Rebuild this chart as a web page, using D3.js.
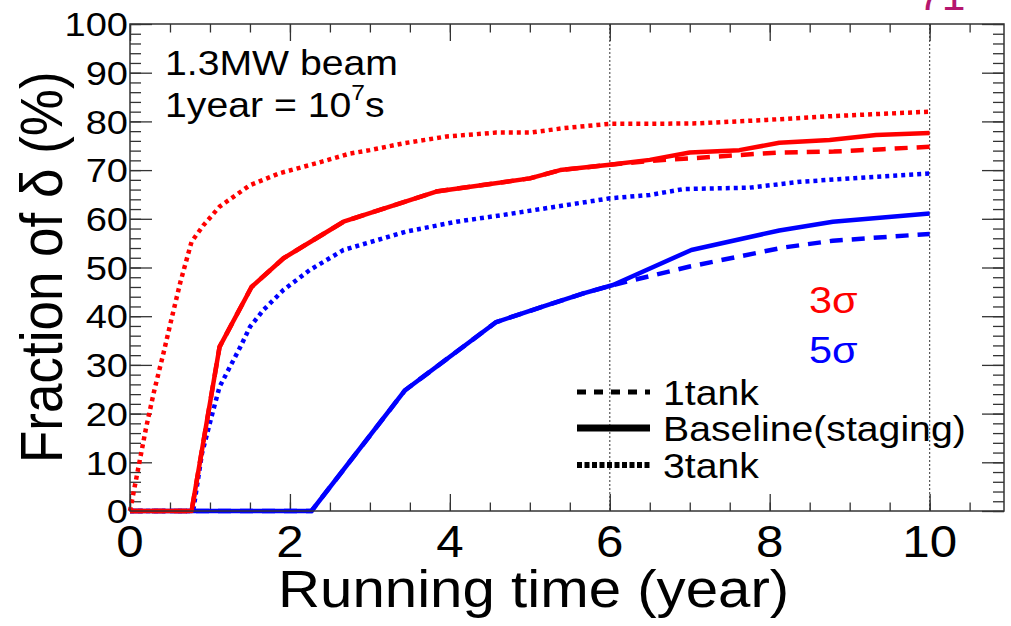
<!DOCTYPE html>
<html>
<head>
<meta charset="UTF-8">
<title>Fraction of delta vs running time</title>
<script src="https://cdn.jsdelivr.net/npm/d3@7"></script>
<style>
  body { margin: 0; background: #fff; }
  text { font-family: "Liberation Sans", Arial, sans-serif; }
</style>
</head>
<body>
<svg id="chart" width="1011" height="626"></svg>
<script>
// curves: [running time (year), fraction of delta (%)]
var red3tank = [[0, 0], [0.1, 8.5], [0.2, 17], [0.3, 24.5], [0.42, 32.5], [0.52, 39.5], [0.63, 47],
  [0.77, 55.3], [0.92, 58.7], [1.12, 62.5], [1.5, 66.9], [1.88, 69.4], [2.33, 71.4], [2.75, 73.4],
  [3.0, 74.1], [3.42, 75.5], [3.96, 76.9], [4.58, 77.7], [5.0, 77.7], [5.42, 78.6], [6.0, 79.5],
  [6.5, 79.5], [7.1, 79.6], [7.96, 80.3], [8.8, 81.1], [10, 82]];
var redBase = [[0, 0], [0.77, 0], [1.12, 33.7], [1.52, 46], [1.92, 51.9], [2.29, 55.6], [2.67, 59.4],
  [3.83, 65.6], [5.0, 68.3], [5.38, 70], [6.0, 71.1], [6.5, 72.1], [7.0, 73.6], [7.62, 74.1],
  [8.12, 75.6], [8.75, 76.2], [9.33, 77.2], [10, 77.6]];
var red1tank = [[0, 0], [0.77, 0], [1.12, 33.7], [1.52, 46], [1.92, 51.9], [2.29, 55.6], [2.67, 59.4],
  [3.83, 65.6], [5.0, 68.3], [5.38, 70], [6.0, 71.1], [6.5, 71.9], [7.0, 72.4], [7.62, 73.1],
  [8.12, 73.6], [8.8, 73.8], [9.42, 74.3], [10, 74.8]];
var blue3tank = [[0, 0], [0.79, 0], [0.9, 11.8], [1.02, 19.4], [1.12, 25.5], [1.25, 29.6], [1.38, 33.7],
  [1.5, 37.8], [1.67, 41.3], [1.92, 45.4], [2.25, 49.5], [2.67, 53.6], [3.46, 57.4], [4.08, 59.4],
  [4.67, 60.8], [5.33, 62.5], [6.0, 64.2], [6.5, 64.9], [6.92, 66.1], [7.75, 66.4], [8.38, 67.6],
  [9.2, 68.5], [10, 69.3]];
var blueBase = [[0, 0], [2.27, 0], [3.44, 24.8], [4.58, 38.8], [5.17, 42], [5.67, 44.7], [6.04, 46.4],
  [7.02, 53.6], [8.12, 57.6], [8.79, 59.4], [10, 61.1]];
var blue1tank = [[0, 0], [2.27, 0], [3.44, 24.8], [4.58, 38.8], [5.17, 42], [5.67, 44.7], [6.04, 46.4],
  [7.0, 50.2], [8.17, 54.1], [8.79, 55.5], [10, 56.9]];

var xMajor = [0, 2, 4, 6, 8, 10];
var yMajor = [0, 10, 20, 30, 40, 50, 60, 70, 80, 90, 100];
var markYears = [6, 10];
var legendLabels = ["1tank", "Baseline(staging)", "3tank"];

var svg = d3.select("#chart");
var sx = 1.12; // the slide picture is a little wider than tall

var x = d3.scaleLinear().domain([0, 10.93]).range([130, 1004]);
var y = d3.scaleLinear().domain([0, 100]).range([511, 24]);

var label = function (px, py, str, size, anchor, color) {
  return svg.append("text")
    .attr("transform", "translate(" + px + "," + py + ") scale(" + sx + ",1)")
    .attr("text-anchor", anchor)
    .attr("font-size", size)
    .attr("fill", color || "#000")
    .text(str);
};

// page number peeking at the top
label(918, 10, "71", 38, "start", "#b5166e");

// vertical marker lines at 6 and 10 years
svg.selectAll(".mark").data(markYears).enter().append("line")
  .attr("x1", function (d) { return x(d); }).attr("x2", function (d) { return x(d); })
  .attr("y1", y(100)).attr("y2", y(0))
  .attr("stroke", "#555").attr("stroke-width", 1.2).attr("stroke-dasharray", "2,2");

// ticks, all pointing into the frame
var minorX = d3.range(0, 10.9, 0.5);
var minorY = d3.range(0, 101, 2);
var tickAxis = function (axis, tr) {
  var g = svg.append("g").attr("transform", tr).call(axis);
  g.select(".domain").remove();
  g.selectAll("line").attr("stroke", "#333").attr("stroke-width", 1.3);
  g.selectAll("text").remove();
};
tickAxis(d3.axisBottom(x).tickValues(minorX).tickSize(-8.5), "translate(0," + y(0) + ")");
tickAxis(d3.axisBottom(x).tickValues(xMajor).tickSize(-17), "translate(0," + y(0) + ")");
tickAxis(d3.axisTop(x).tickValues(minorX).tickSize(-8.5), "translate(0," + y(100) + ")");
tickAxis(d3.axisTop(x).tickValues(xMajor).tickSize(-17), "translate(0," + y(100) + ")");
tickAxis(d3.axisLeft(y).tickValues(minorY).tickSize(-11), "translate(" + x(0) + ",0)");
tickAxis(d3.axisLeft(y).tickValues(yMajor).tickSize(-22), "translate(" + x(0) + ",0)");
tickAxis(d3.axisRight(y).tickValues(minorY).tickSize(-11), "translate(" + x.range()[1] + ",0)");
tickAxis(d3.axisRight(y).tickValues(yMajor).tickSize(-22), "translate(" + x.range()[1] + ",0)");

// curves
var line = d3.line().x(function (d) { return x(d[0]); }).y(function (d) { return y(d[1]); });
var curves = [
  { data: blue1tank, color: "#0000ff", dash: "13,9" },
  { data: blueBase, color: "#0000ff", dash: null },
  { data: blue3tank, color: "#0000ff", dash: "4,4" },
  { data: red1tank, color: "#ff0000", dash: "13,9" },
  { data: redBase, color: "#ff0000", dash: null },
  { data: red3tank, color: "#ff0000", dash: "4,4" }
];
curves.forEach(function (c) {
  svg.append("path").datum(c.data)
    .attr("d", line)
    .attr("fill", "none")
    .attr("stroke", c.color)
    .attr("stroke-width", 4.5)
    .attr("stroke-linejoin", "round")
    .attr("stroke-dasharray", c.dash);
});

// frame
svg.append("rect")
  .attr("x", x(0)).attr("y", y(100))
  .attr("width", x.range()[1] - x(0)).attr("height", y(0) - y(100))
  .attr("fill", "none").attr("stroke", "#333").attr("stroke-width", 1.5);

// tick labels
yMajor.forEach(function (v) {
  label(128, y(v), v, 34, "end").attr("dy", "0.36em");
});
xMajor.forEach(function (v) {
  label(x(v), 557, v, 44, "middle");
});

// axis titles
label(278, 607, "Running time (year)", 52, "start");
svg.append("text")
  .attr("transform", "translate(62,463) scale(" + sx + ",1) rotate(-90)")
  .attr("font-size", 53)
  .text("Fraction of \u03b4 (%)");

// annotations
label(165, 75, "1.3MW beam", 35, "start");
var t = label(165, 117, "1year = 10", 35, "start");
t.append("tspan").attr("dy", -17).attr("font-size", 22).text("7");
t.append("tspan").attr("dy", 17).attr("font-size", 35).text("s");
label(809, 313, "3\u03c3", 37, "start", "#ff0000");
label(809, 363, "5\u03c3", 37, "start", "#0000ff");

// legend
var legendStyle = [
  { dash: "9,8", width: 5 },
  { dash: null, width: 7 },
  { dash: "5,2.5", width: 6 }
];
var legendY = [392, 428, 465];
legendLabels.forEach(function (name, i) {
  svg.append("line")
    .attr("x1", 577).attr("x2", 650)
    .attr("y1", legendY[i]).attr("y2", legendY[i])
    .attr("stroke", "#000")
    .attr("stroke-width", legendStyle[i].width)
    .attr("stroke-dasharray", legendStyle[i].dash);
  label(663, legendY[i] + 13, name, 35, "start");
});
</script>
</body>
</html>
